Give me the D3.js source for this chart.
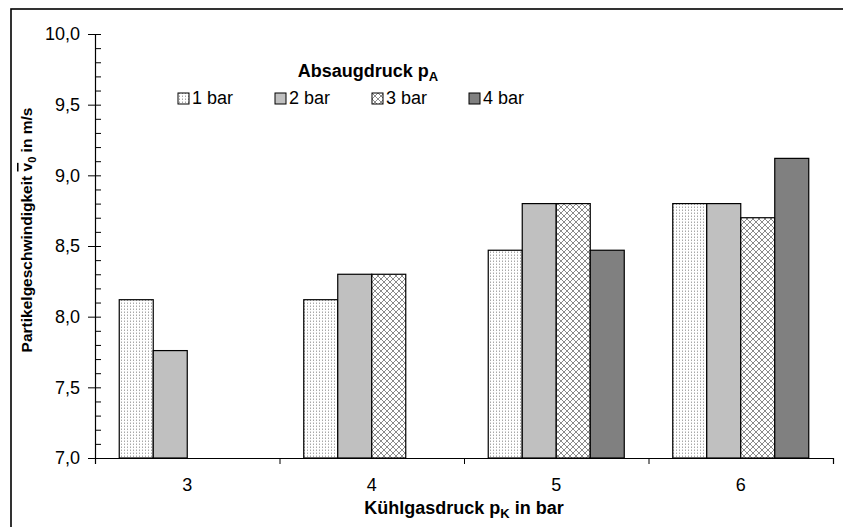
<!DOCTYPE html>
<html>
<head>
<meta charset="utf-8">
<script src="https://cdn.jsdelivr.net/npm/d3@7"></script>
<style>
  html, body { margin: 0; padding: 0; background: #fff; }
  svg { display: block; font-family: "Liberation Sans", Arial, sans-serif; }
</style>
</head>
<body>
<div id="chart"></div>
<script>
// Partikelgeschwindigkeit ueber Kuehlgasdruck, gruppiert nach Absaugdruck
const categories = ['3', '4', '5', '6'];
const seriesNames = ['1 bar', '2 bar', '3 bar', '4 bar'];
const bar1 = [8.12, 8.12, 8.47, 8.80];
const bar2 = [7.76, 8.30, 8.80, 8.80];
const bar3 = [null, 8.30, 8.80, 8.70];
const bar4 = [null, null, 8.47, 9.12];
const yMajorTicks = [7.0, 7.5, 8.0, 8.5, 9.0, 9.5, 10.0];

const W = 843, H = 527;
const margin = { left: 95, right: 10, top: 34, bottom: 69 };
const fs = 18;

const svg = d3.select('#chart').append('svg').attr('width', W).attr('height', H);

// patterns
const defs = svg.append('defs');
const dots = defs.append('pattern').attr('id', 'dots').attr('patternUnits', 'userSpaceOnUse')
  .attr('width', 3).attr('height', 3);
dots.append('rect').attr('width', 3).attr('height', 3).attr('fill', '#fff');
dots.append('rect').attr('x', 1).attr('y', 0).attr('width', 1).attr('height', 1).attr('fill', '#a8a8a8');
dots.append('rect').attr('x', 1).attr('y', 2).attr('width', 1).attr('height', 1).attr('fill', '#d4d4d4');

const hatch = defs.append('pattern').attr('id', 'hatch').attr('patternUnits', 'userSpaceOnUse')
  .attr('width', 6).attr('height', 6);
hatch.append('rect').attr('width', 6).attr('height', 6).attr('fill', '#fff');
for (let i = 0; i < 6; i++) {
  hatch.append('rect').attr('x', i).attr('y', i).attr('width', 1).attr('height', 1).attr('fill', '#8a8a8a');
  hatch.append('rect').attr('x', 5 - i).attr('y', i).attr('width', 1).attr('height', 1).attr('fill', '#8a8a8a');
}

const fills = ['url(#dots)', '#c0c0c0', 'url(#hatch)', '#808080'];

// outer frame (runs off the right and bottom edge)
svg.append('rect').attr('x', 11).attr('y', 9).attr('width', W).attr('height', H)
  .attr('fill', 'none').attr('stroke', '#000').attr('stroke-width', 1.6);

const x0 = d3.scaleBand().domain(categories).range([margin.left, W - margin.right]).padding(0);
const x1 = d3.scaleBand().domain(seriesNames).range([0, x0.bandwidth()]).paddingInner(0).paddingOuter(0.713);
const y = d3.scaleLinear().domain([7, 10]).range([H - margin.bottom, margin.top]);
const fmt = d3.format('.1f');

const series = [bar1, bar2, bar3, bar4];
const rows = [];
series.forEach((vals, s) => vals.forEach((v, c) => {
  if (v != null) rows.push({ cat: categories[c], name: seriesNames[s], s: s, v: v });
}));

svg.append('g').selectAll('rect').data(rows).enter().append('rect')
  .attr('x', d => x0(d.cat) + x1(d.name))
  .attr('y', d => y(d.v))
  .attr('width', x1.bandwidth())
  .attr('height', d => y(7) - y(d.v))
  .attr('fill', d => fills[d.s])
  .attr('stroke', '#000').attr('stroke-width', 1.2);

// y axis: major ticks crossing, minor ticks inside
svg.append('g').attr('transform', `translate(${margin.left},0)`)
  .call(d3.axisLeft(y).tickValues(yMajorTicks).tickSize(7).tickPadding(8)
    .tickFormat(d => fmt(d).replace('.', ',')));
const yMinor = svg.append('g').attr('transform', `translate(${margin.left},0)`)
  .call(d3.axisRight(y).tickValues(d3.range(70, 101).map(d => d / 10)).tickSize(6).tickFormat(''));
yMinor.select('.domain').remove();

// x axis: ticks between groups, labels at centres
const xIdx = d3.scaleLinear().domain([0, categories.length]).range([margin.left, W - margin.right]);
svg.append('g').attr('transform', `translate(0,${y(7)})`)
  .call(d3.axisBottom(xIdx).tickValues(d3.range(0, categories.length + 1)).tickSize(6).tickFormat(''));
const xLab = svg.append('g').attr('transform', `translate(0,${y(7)})`)
  .call(d3.axisBottom(x0).tickSize(0).tickPadding(20));
xLab.select('.domain').remove();

svg.selectAll('.domain').attr('stroke', '#000').attr('stroke-width', 1.2);
svg.selectAll('.tick line').attr('stroke', '#000');
svg.selectAll('.tick text').attr('font-size', fs).attr('fill', '#000')
  .attr('font-family', '"Liberation Sans", Arial, sans-serif');

// axis titles
const xt = svg.append('text').attr('x', (margin.left + W - margin.right) / 2).attr('y', 514)
  .attr('text-anchor', 'middle').attr('font-size', fs).attr('font-weight', 'bold');
xt.append('tspan').text('Kühlgasdruck p');
xt.append('tspan').attr('font-size', 13).attr('dy', 4).text('K');
xt.append('tspan').attr('dy', -4).text(' in bar');

const yt = svg.append('text').attr('transform', 'translate(32,230) rotate(-90)')
  .attr('text-anchor', 'middle').attr('font-size', 15.5).attr('font-weight', 'bold');
yt.append('tspan').text('Partikelgeschwindigkeit ');
yt.append('tspan').attr('text-decoration', 'overline').text('v');
yt.append('tspan').attr('font-size', 11).attr('dy', 4).text('0');
yt.append('tspan').attr('dy', -4).text(' in m/s');

// legend
const lt = svg.append('text').attr('x', 368).attr('y', 77)
  .attr('text-anchor', 'middle').attr('font-size', fs).attr('font-weight', 'bold');
lt.append('tspan').text('Absaugdruck p');
lt.append('tspan').attr('font-size', 13).attr('dy', 4).text('A');

const leg = svg.append('g').selectAll('g').data(seriesNames).enter().append('g')
  .attr('transform', (d, i) => `translate(${178 + i * 97},93)`);
leg.append('rect').attr('width', 11).attr('height', 11)
  .attr('fill', (d, i) => fills[i]).attr('stroke', '#000').attr('stroke-width', 1);
leg.append('text').attr('x', 14).attr('y', 11).attr('font-size', fs).text(d => d);
</script>
</body>
</html>
